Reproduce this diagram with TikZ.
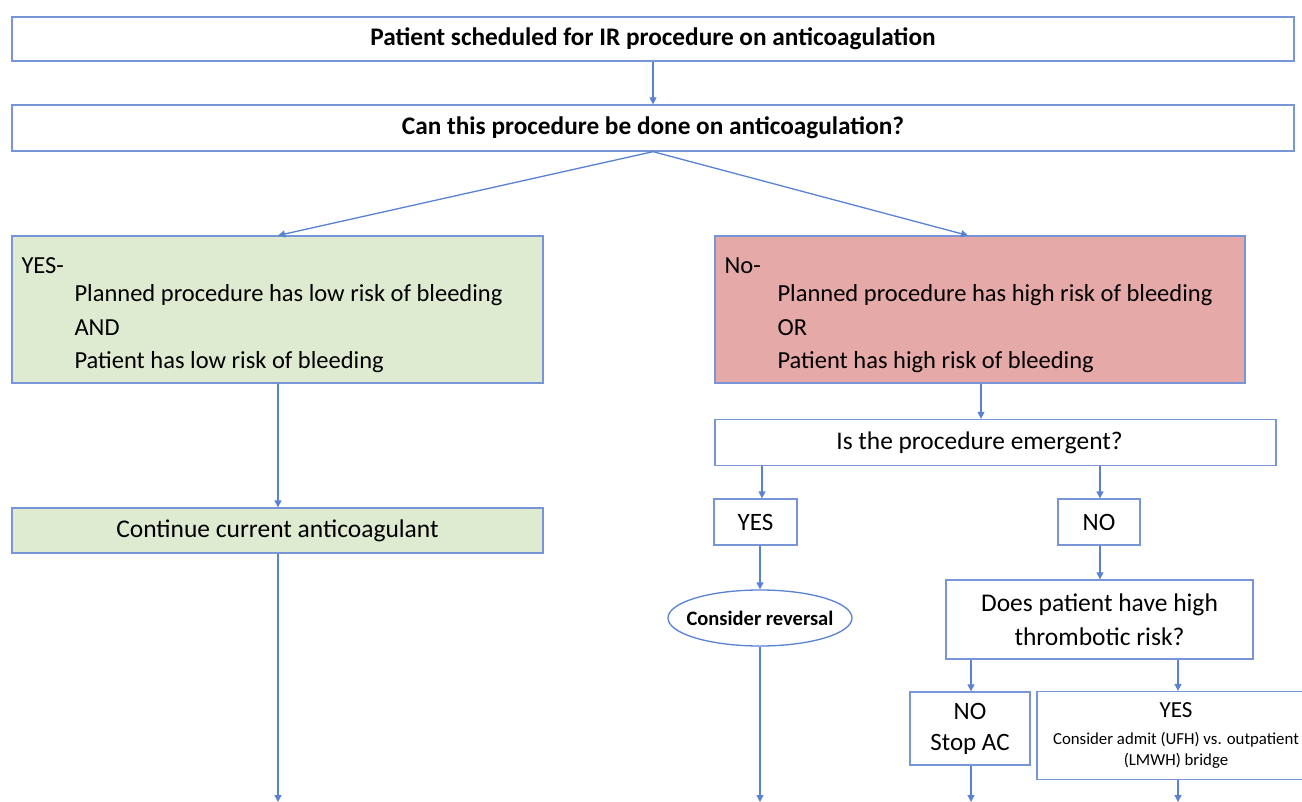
\documentclass[tikz,border=0pt]{standalone}
\usepackage{fontspec}
\setmainfont{Carlito}
\usetikzlibrary{arrows.meta,shapes.geometric}
\definecolor{edgeblue}{RGB}{120,150,215}
\definecolor{arrblue}{RGB}{90,130,210}
\definecolor{greenfill}{RGB}{223,235,209}
\definecolor{redfill}{RGB}{229,169,167}
\newcommand{\fsz}[2]{\fontsize{#1}{#2}\selectfont}
\tikzset{
  box/.style={draw=edgeblue, line width=1.3pt, inner sep=0pt, align=center},
  txt/.style={inner sep=0pt, align=left, anchor=north west, font=\fsz{24.5}{32}},
  conn/.style={draw=arrblue, line width=1.3pt, -{Triangle[length=7pt,width=7pt]}},
}
\begin{document}
\begin{tikzpicture}[x=1pt,y=-1pt]
\useasboundingbox[fill=white] (0,0) rectangle (1302,802);
\clip (0,0) rectangle (1302,802);
% top boxes
\node[box, minimum width=1282, minimum height=44, font=\fsz{25.3}{30}\bfseries] (n1) at (653,39) {Patient scheduled for IR procedure on anticoagulation};
\node[box, minimum width=1282, minimum height=46, font=\fsz{25.3}{30}\bfseries] (n2) at (653,128) {Can this procedure be done on anticoagulation?};
% green and red
\node[box, fill=greenfill, minimum width=531, minimum height=147] (yes) at (277.5,309.5) {};
\node[txt] (yest) at ([xshift=10pt,yshift=-22pt]yes.north west)
  {YES-\\[-4pt]\hspace*{53pt}Planned procedure has low risk of bleeding\\[2pt]\hspace*{53pt}AND\\[1pt]\hspace*{53pt}Patient has low risk of bleeding};
\node[box, fill=redfill, minimum width=530, minimum height=147] (no) at (980,309.5) {};
\node[txt] (not) at ([xshift=10pt,yshift=-22pt]no.north west)
  {No-\\[-4pt]\hspace*{53pt}Planned procedure has high risk of bleeding\\[2pt]\hspace*{53pt}OR\\[1pt]\hspace*{53pt}Patient has high risk of bleeding};
\node[box, fill=greenfill, minimum width=531, minimum height=45, font=\fsz{25.5}{30}] (cont) at (277.5,530.5) {Continue current anticoagulant};
\node[box, minimum width=561, minimum height=46, font=\fsz{25.4}{30}] (emerg) at (995.5,442.5) {\hspace*{-32pt}Is the procedure emergent?};
\node[box, minimum width=83, minimum height=46, font=\fsz{25}{30}] (eyes) at (755.5,522) {YES};
\node[box, minimum width=82, minimum height=46, font=\fsz{25}{30}] (eno) at (1099,522) {NO};
\node[box, draw=arrblue, ellipse, inner xsep=-10pt, inner ysep=0pt, minimum width=184, minimum height=56, font=\fsz{20.5}{25}\bfseries] (rev) at (760,618) {Consider reversal};
\node[box, minimum width=307, minimum height=79, font=\fsz{25.5}{34}] (thr) at (1099.5,619.5) {Does patient have high\\thrombotic risk?};
\node[box, minimum width=120, minimum height=73, font=\fsz{25}{31}] (stop) at (970,728.5) {NO\\Stop AC};
\node[box, minimum width=278, minimum height=88, font=\fsz{16.8}{21}] (bridge) at (1176,735.5)
  {{\fsz{23}{23}YES}\\[6pt]Consider admit (UFH) vs. outpatient\\(LMWH) bridge};
% free ends
\coordinate (e1) at (278,802);
\coordinate (e2) at (760,802);
\coordinate (e3) at (971,802);
\coordinate (e4) at (1178,802);
% connectors
\draw[conn] (n1.south) -- (n2.north);
\draw[conn] (n2.south) -- (278,235.5);
\draw[conn] (n2.south) -- (968,235.5);
\draw[conn] (yes.south -| 278,0) -- (cont.north -| 278,0);
\draw[conn] (cont.south -| 278,0) -- (e1);
\draw[conn] (no.south -| 981,0) -- (emerg.north -| 981,0);
\draw[conn] (emerg.south -| 762,0) -- (eyes.north -| 762,0);
\draw[conn] (emerg.south -| 1100,0) -- (eno.north -| 1100,0);
\draw[conn] (eyes.south -| 760,0) -- (rev.north);
\draw[conn] (rev.south) -- (e2);
\draw[conn] (eno.south -| 1100,0) -- (thr.north -| 1100,0);
\draw[conn] (thr.south -| 971,0) -- (stop.north -| 971,0);
\draw[conn] (thr.south -| 1178,0) -- (bridge.north -| 1178,0);
\draw[conn] (stop.south -| 971,0) -- (e3);
\draw[conn] (bridge.south -| 1178,0) -- (e4);
\end{tikzpicture}
\end{document}
